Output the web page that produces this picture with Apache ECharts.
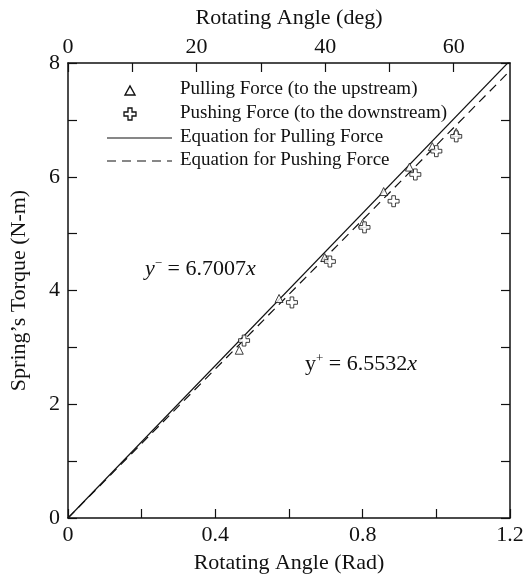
<!DOCTYPE html>
<html>
<head>
<meta charset="utf-8">
<script src="https://cdn.jsdelivr.net/npm/echarts@6/dist/echarts.min.js"></script>
<style>
  html, body { margin: 0; padding: 0; background: #fff; }
  #chart { width: 532px; height: 579px; }
</style>
</head>
<body>
<div id="chart"></div>
<script>
// measured points (rad, N-m)
const pullX = [0.465, 0.573, 0.697, 0.800, 0.857, 0.927, 0.989, 1.054]
const pullY = [2.95, 3.86, 4.58, 5.18, 5.74, 6.17, 6.53, 6.78]
const pushX = [0.478, 0.608, 0.711, 0.805, 0.884, 0.943, 1.000, 1.054]
const pushY = [3.12, 3.79, 4.51, 5.11, 5.57, 6.04, 6.45, 6.71]

// fitted lines, end points of y = 6.7007x and y = 6.5532x
const fitX = [0, 1.2]
const pullFitY = [0, 8.041]
const pushFitY = [0, 7.864]

const radTicks = [0, 0.4, 0.8, 1.2]
const degTicks = [0, 20, 40, 60]
const torqueTicks = [0, 2, 4, 6, 8]

const font = 'Liberation Serif'
const ink = '#111'
const plusPath = 'path://M3,0 H6 V3 H9 V6 H6 V9 H3 V6 H0 V3 H3 Z'

function pairs(xs, ys) {
  return xs.map((x, i) => [x, ys[i]])
}

function inList(list, v) {
  return list.some(t => Math.abs(t - v) < 1e-6)
}

// little plus outline for the legend, centred on (cx, cy)
function plusPoints(cx, cy, a) {
  const b = a * 3
  return [[-a, -b], [a, -b], [a, -a], [b, -a], [b, a], [a, a], [a, b], [-a, b],
    [-a, a], [-b, a], [-b, -a], [-a, -a]].map(p => [cx + p[0], cy + p[1]])
}

const axisBase = {
  axisLine: { onZero: false, lineStyle: { color: ink, width: 1.5 } },
  axisTick: { inside: true, length: 9, lineStyle: { color: ink, width: 1.2 } },
  splitLine: { show: false },
  nameTextStyle: { fontFamily: font, fontSize: 22, color: ink },
  axisLabel: { fontFamily: font, fontSize: 22, color: ink }
}

const chart = echarts.init(document.getElementById('chart'))

chart.setOption({
  animation: false,
  backgroundColor: '#fff',
  grid: { left: 66, right: 22, top: 63, bottom: 61 },
  xAxis: [{
    ...axisBase,
    type: 'value',
    position: 'bottom',
    min: 0,
    max: 1.2,
    interval: 0.2,
    name: 'Rotating Angle (Rad)',
    nameLocation: 'middle',
    nameGap: 34,
    axisLabel: {
      ...axisBase.axisLabel,
      margin: 6,
      formatter: v => inList(radTicks, v) ? String(+v.toFixed(1)) : ''
    }
  }, {
    ...axisBase,
    type: 'value',
    position: 'top',
    min: 0,
    max: 1.2 * 180 / Math.PI,
    interval: 10,
    name: 'Rotating Angle (deg)',
    nameLocation: 'middle',
    nameGap: 34,
    axisLabel: {
      ...axisBase.axisLabel,
      margin: 5,
      showMaxLabel: false,
      formatter: v => inList(degTicks, v) ? String(v) : ''
    }
  }],
  yAxis: [{
    ...axisBase,
    type: 'value',
    position: 'left',
    min: 0,
    max: 8,
    interval: 1,
    name: 'Spring\u2019s Torque (N-m)',
    nameLocation: 'middle',
    nameGap: 38,
    axisLabel: {
      ...axisBase.axisLabel,
      margin: 8,
      formatter: v => inList(torqueTicks, v) ? String(v) : ''
    }
  }, {
    ...axisBase,
    type: 'value',
    position: 'right',
    min: 0,
    max: 8,
    interval: 1,
    axisLabel: { show: false }
  }],
  series: [{
    name: 'Equation for Pulling Force',
    type: 'line',
    data: pairs(fitX, pullFitY),
    symbol: 'none',
    lineStyle: { color: ink, width: 1.2, type: 'solid' },
    z: 2
  }, {
    name: 'Equation for Pushing Force',
    type: 'line',
    data: pairs(fitX, pushFitY),
    symbol: 'none',
    lineStyle: { color: ink, width: 1.2, type: [9, 6] },
    z: 2
  }, {
    name: 'Pulling Force (to the upstream)',
    type: 'scatter',
    data: pairs(pullX, pullY),
    symbol: 'triangle',
    symbolSize: 8,
    itemStyle: { color: '#fff', borderColor: ink, borderWidth: 1 },
    z: 3
  }, {
    name: 'Pushing Force (to the downstream)',
    type: 'scatter',
    data: pairs(pushX, pushY),
    symbol: plusPath,
    symbolSize: 11,
    itemStyle: { color: '#fff', borderColor: ink, borderWidth: 1 },
    z: 4
  }],
  graphic: [
    // legend
    { type: 'polygon', shape: { points: [[125, 95], [130, 86], [135, 95]] },
      style: { fill: '#fff', stroke: ink, lineWidth: 1.4 } },
    { type: 'text', left: 180, top: 80, style: { text: 'Pulling Force (to the upstream)', font: '19px ' + font, fill: ink } },
    { type: 'polygon', shape: { points: plusPoints(130, 114, 2) },
      style: { fill: '#fff', stroke: ink, lineWidth: 1.3 } },
    { type: 'text', left: 180, top: 104, style: { text: 'Pushing Force (to the downstream)', font: '19px ' + font, fill: ink } },
    { type: 'line', shape: { x1: 107, y1: 138, x2: 172, y2: 138 }, style: { stroke: ink, lineWidth: 1.2 } },
    { type: 'text', left: 180, top: 128, style: { text: 'Equation for Pulling Force', font: '19px ' + font, fill: ink } },
    { type: 'line', shape: { x1: 107, y1: 161, x2: 172, y2: 161 }, style: { stroke: ink, lineWidth: 1.2, lineDash: [9, 6] } },
    { type: 'text', left: 180, top: 151, style: { text: 'Equation for Pushing Force', font: '19px ' + font, fill: ink } },
    // equations
    { type: 'text', left: 145, top: 257, style: {
      text: '{i|y}{s|\u2212}{n| = 6.7007}{i|x}',
      rich: {
        i: { fontFamily: font, fontSize: 22, fontStyle: 'italic', fill: ink },
        n: { fontFamily: font, fontSize: 22, fill: ink },
        s: { fontFamily: font, fontSize: 13, fill: ink, padding: [0, 0, 12, 0] }
      }
    } },
    { type: 'text', left: 305, top: 352, style: {
      text: '{n|y}{s|+}{n| = 6.5532}{i|x}',
      rich: {
        i: { fontFamily: font, fontSize: 22, fontStyle: 'italic', fill: ink },
        n: { fontFamily: font, fontSize: 22, fill: ink },
        s: { fontFamily: font, fontSize: 13, fill: ink, padding: [0, 0, 12, 0] }
      }
    } }
  ]
})
</script>
</body>
</html>
